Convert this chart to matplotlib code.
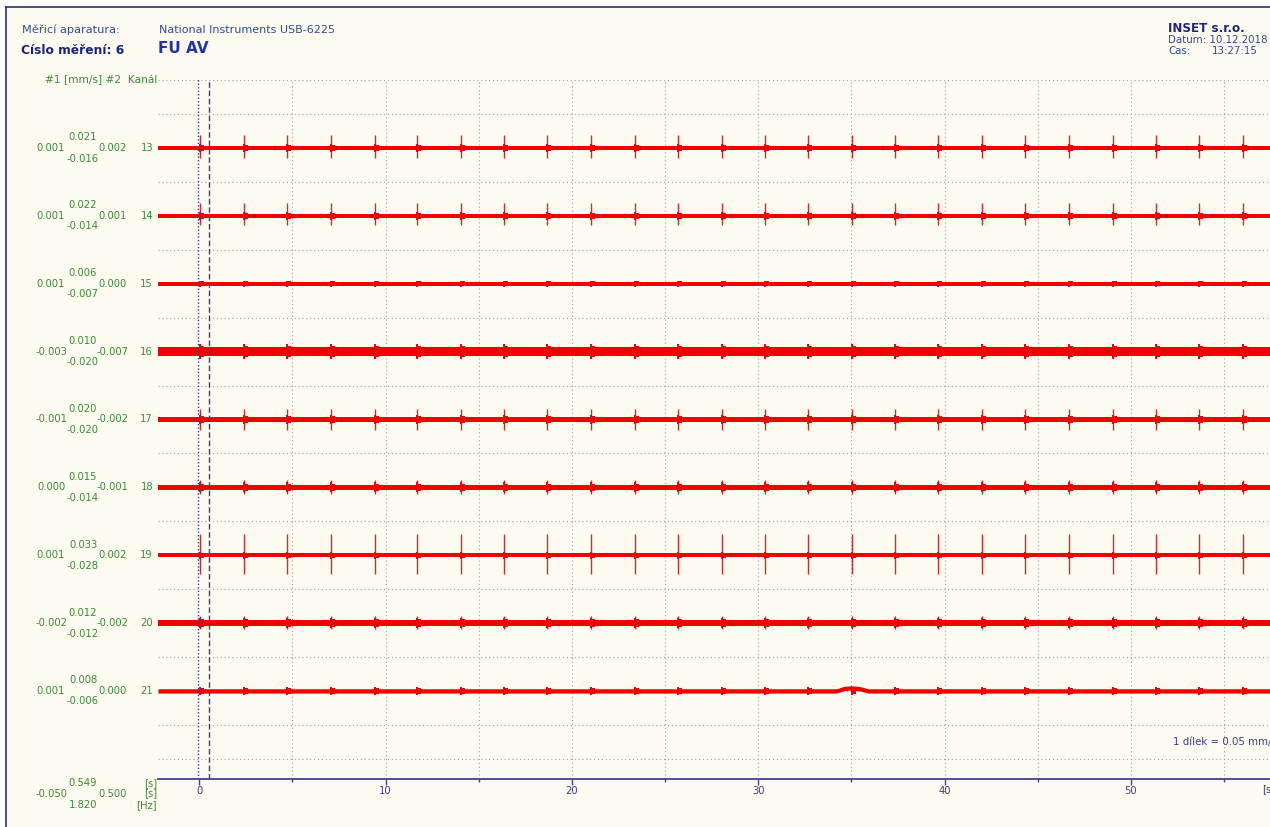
import matplotlib
matplotlib.use("Agg")
import matplotlib.pyplot as plt
from matplotlib.lines import Line2D
import numpy as np

# ---- data ----
channels = [13, 14, 15, 16, 17, 18, 19, 20, 21]
ch_max = [0.021, 0.022, 0.006, 0.010, 0.020, 0.015, 0.033, 0.012, 0.008]
ch_min = [-0.016, -0.014, -0.007, -0.020, -0.020, -0.014, -0.028, -0.012, -0.006]
ch_cur1 = [0.001, 0.001, 0.001, -0.003, -0.001, 0.000, 0.001, -0.002, 0.001]
ch_cur2 = [0.002, 0.001, 0.000, -0.007, -0.002, -0.001, 0.002, -0.002, 0.000]

# half width of the noise band [mm/s]
noise_half = [0.0032, 0.0032, 0.0026, 0.0064, 0.0040, 0.0040, 0.0029, 0.0042, 0.0032]
# typical spike excursion up / down [mm/s]
spike_up = [0.019, 0.019, 0.004, 0.008, 0.016, 0.011, 0.031, 0.010, 0.004]
spike_down = [0.015, 0.013, 0.004, 0.010, 0.016, 0.010, 0.027, 0.009, 0.004]

# spike times [s]
spike_t = [0.02, 2.40, 4.72, 7.05, 9.41, 11.70, 14.03, 16.36, 18.68, 21.01,
           23.37, 25.68, 28.04, 30.36, 32.69, 35.02, 37.34, 39.67, 41.99,
           44.30, 46.70, 49.03, 51.35, 53.68, 56.01]

# small slow bump on channel 21
bump21_t = [34.2, 34.6, 35.0, 35.5, 35.9]
bump21_v = [0.0, 0.0035, 0.0045, 0.0030, 0.0]

cursor1 = -0.050
cursor2 = 0.500
cursor_dt = 0.549
cursor_f = 1.820

x_ticks = [0, 10, 20, 30, 40, 50]
division = 0.05
spacing = 0.1

# ---- figure ----
W, H = 1270, 827
fig = plt.figure(figsize=(W / 100, H / 100), dpi=100)
fig.patch.set_facecolor("white")
bg = "#fefbf0"
green = "#3a8a3a"
red = "#f00000"
spike_col = "#c03030"
hdr = "#2f4a9a"

# cream panel with the frame
fig.add_artist(plt.Rectangle((6 / W, 0), 1, 1 - 7 / H, transform=fig.transFigure,
                             facecolor=bg, edgecolor="none", zorder=-5))
fig.add_artist(Line2D([6 / W, 6 / W], [0, 1 - 7 / H], transform=fig.transFigure,
                      color="#303070", lw=1.2))
fig.add_artist(Line2D([6 / W, 1], [1 - 7 / H, 1 - 7 / H], transform=fig.transFigure,
                      color="#303070", lw=1.2))

px_s = 18.63
x0_px = 199.3
ax_left, ax_right = 158, 1300
ax_top, ax_bot = 78.8, 779
xlim = ((ax_left - x0_px) / px_s, (ax_right - x0_px) / px_s)
ylim = (-8 * spacing - 88 / 33.9 * division, 0.102)

ax = fig.add_axes([ax_left / W, (H - ax_bot) / H, (ax_right - ax_left) / W,
                   (ax_bot - ax_top) / H])
ax.set_facecolor("none")
ax.set_xlim(*xlim)
ax.set_ylim(*ylim)

# grid
for gy in np.arange(spacing, ylim[0], -division):
    ax.axhline(gy, color="#a0a0a0", lw=0.8, ls=(0, (1, 2.5)), zorder=1)
for gx in np.arange(5, xlim[1], 5):
    ax.axvline(gx, color="#a0a0a0", lw=0.8, ls=(0, (1, 2.5)), zorder=1)

# traces
xs = np.array(xlim)
for i, ch in enumerate(channels):
    base = -i * spacing
    nh = noise_half[i]
    if ch == 21:
        bt = np.array([xlim[0]] + bump21_t + [xlim[1]])
        bv = np.array([0.0] + bump21_v + [0.0])
        ax.fill_between(bt, base + bv - nh, base + bv + nh, color=red, lw=0, zorder=3)
    else:
        ax.fill_between(xs, base - nh, base + nh, color=red, lw=0, zorder=3)
    for t in spike_t:
        ax.vlines(t, base - spike_down[i], base + spike_up[i], color=spike_col,
                  lw=1.0, zorder=4)
        ax.fill_between([t, t + 0.22], base - nh * 1.3, base + nh * 1.3,
                        color=red, lw=0, zorder=3)
        ax.vlines(t, base - nh * 1.8, base + nh * 1.8, color=red, lw=1.4, zorder=4)

    # labels left of the axes
    kw = dict(xycoords=("axes fraction", "data"), textcoords="offset points",
              color=green, fontsize=7.2, va="center")
    ax.annotate(str(ch), (0, base), xytext=(-3.6, 0), ha="right", **kw)
    ax.annotate("%.3f" % ch_cur2[i], (0, base), xytext=(-33, 0), ha="center", **kw)
    ax.annotate("%.3f" % ch_cur1[i], (0, base), xytext=(-77, 0), ha="center", **kw)
    ax.annotate("%.3f" % ch_max[i], (0, base), xytext=(-54, 7.6), ha="center", **kw)
    ax.annotate("%.3f" % ch_min[i], (0, base), xytext=(-54, -7.6), ha="center", **kw)

# cursors
ax.axvline(cursor1, color="#3838a0", lw=1.0, ls=(0, (1, 1.5)), zorder=5)
ax.axvline(cursor2, color="#3838a0", lw=1.0, ls=(0, (4, 2)), zorder=5)

# x axis
for s in ["top", "right", "left"]:
    ax.spines[s].set_visible(False)
ax.spines["bottom"].set_color("#404090")
ax.spines["bottom"].set_linewidth(1.3)
ax.set_yticks([])
ax.set_xticks(x_ticks)
ax.set_xticks(np.arange(5, xlim[1], 10), minor=True)
ax.tick_params(axis="x", which="major", direction="out", length=4, width=1,
               color="#404090", labelcolor="#3a3a8a", labelsize=7.2, pad=0.8)
ax.tick_params(axis="x", which="minor", direction="out", length=2.5, width=1,
               color="#404090")
ax.annotate("[s]", (0, 0), xycoords=("figure fraction", "axes fraction"),
            xytext=(1262 * 0.72, -7.5), textcoords="offset points",
            ha="left", va="center", color="#3a3a8a", fontsize=7.2)

# cursor readout under the channel labels
kw = dict(xycoords="axes fraction", textcoords="offset points", color=green,
          fontsize=7.2, va="center")
ax.annotate("%.3f" % cursor_dt, (0, 0), xytext=(-54, -3), ha="center", **kw)
ax.annotate("%.3f" % cursor1, (0, 0), xytext=(-77, -10.5), ha="center", **kw)
ax.annotate("%.3f" % cursor2, (0, 0), xytext=(-33, -10.5), ha="center", **kw)
ax.annotate("%.3f" % cursor_f, (0, 0), xytext=(-54, -18.5), ha="center", **kw)
ax.annotate("[s]", (0, 0), xytext=(-0.7, -3), ha="right", **kw)
ax.annotate("[s]", (0, 0), xytext=(-0.7, -10.5), ha="right", **kw)
ax.annotate("[Hz]", (0, 0), xytext=(-0.7, -18.5), ha="right", **kw)

ax.annotate("#1 [mm/s] #2  Kanál", (0, 0.1), xycoords=("axes fraction", "data"),
            xytext=(-0.7, 0), textcoords="offset points", ha="right", va="center",
            color=green, fontsize=7.7)
ax.text((1173 - x0_px) / px_s, -8 * spacing - 1.5 * division,
        "1 dílek = 0.05 mm/s", color="#3a3a9a", fontsize=7.4, va="center", ha="left")

# header
def ftext(xp, yp, s, **k):
    fig.text(xp / W, 1 - yp / H, s, va="center", ha="left", **k)

ftext(22, 30, "Měřicí aparatura:", color=hdr, fontsize=8.2)
ftext(159, 30, "National Instruments USB-6225", color=hdr, fontsize=8.0)
ftext(21, 50, "Císlo měření: 6", color="#1a237e", fontsize=8.8, fontweight="bold")
ftext(158, 48.5, "FU AV", color="#2233aa", fontsize=11, fontweight="bold")
ftext(1168, 28, "INSET s.r.o.", color="#1a237e", fontsize=8.6, fontweight="bold")
ftext(1168, 40, "Datum: 10.12.2018", color=hdr, fontsize=7.4)
ftext(1168, 51, "Cas:", color=hdr, fontsize=7.4)
ftext(1212, 51, "13:27:15", color=hdr, fontsize=7.4)

fig.savefig("out.png", dpi=100, facecolor=fig.get_facecolor())
